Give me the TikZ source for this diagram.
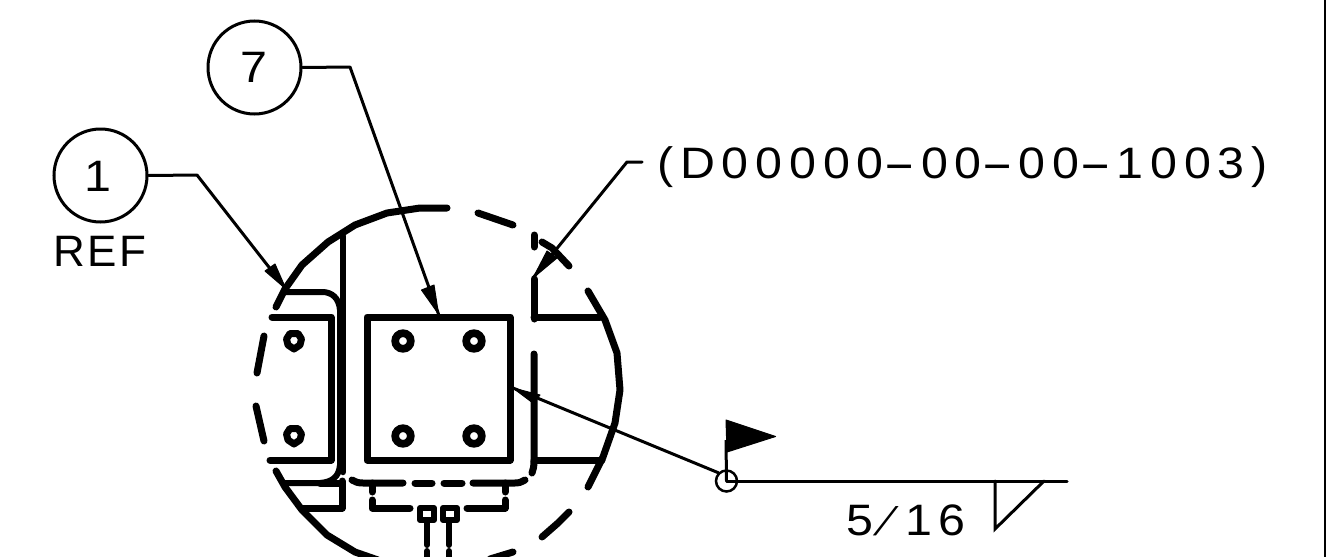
\documentclass[tikz,border=0pt]{standalone}
\usepackage{fontspec}
\setmainfont[LetterSpace=5]{Liberation Sans}
\newfontfamily\widefont[LetterSpace=15.5,FakeStretch=1.1]{Liberation Sans}
\newfontfamily\slashfont[FakeSlant=0.5]{Liberation Sans}
\usetikzlibrary{calc}
\tikzset{
  heavy/.style={line width=7pt,line cap=round,line join=round},
  thin leader/.style={line width=3pt,line cap=round,line join=round},
  bubble/.style={circle,draw,line width=3pt,minimum size=93pt,inner sep=0pt},
  label text/.style={inner sep=0pt,font=\fontsize{44}{44}\selectfont},
  head/.style={fill=black,draw=black,line width=1pt,line join=round}
}
\newcommand{\wh}{\scalebox{2}[1]{-}\hspace*{5pt}}
\newcommand{\wslash}{{\slashfont\fontsize{40}{40}\selectfont /}\hspace*{21pt}}
\begin{document}
\begin{tikzpicture}[x=1pt,y=-1pt]
\useasboundingbox (0,0) rectangle (1326,557);
\fill[white] (0,0) rectangle (1326,557);
\fill[black] (1324,0) rectangle (1326,557);

% bubbles and leaders
\node[bubble] (b7) at (254.5,67.5) {};
\node[label text] (t7) at (254,67) {\widefont 7};
\node[bubble] (b1) at (100.5,175.5) {};
\node[label text] (t1) at (98,176) {\widefont 1};
\node[label text,anchor=base] (ref) at (100,266) {REF};
\node[label text,anchor=base west] (dwg) at (657,178) {\widefont(D00000\wh00\wh00\wh1003)};
\node[label text,anchor=base west] (frac) at (846,535) {\widefont 5\wslash 16};

\coordinate (t7a) at (438.5,314);
\coordinate (t1a) at (286,289);
\coordinate (tda) at (533,278);
\coordinate (tsq) at (513,388);
\node[circle,draw,line width=2.5pt,minimum size=21pt,inner sep=0pt] (wc) at (726.5,481) {};

\draw[thin leader] (b7.east) -- (350,67) -- (t7a);
\draw[thin leader] (b1.east) -- (197,175) -- (t1a);
\draw[thin leader] (642,162) -- (627,162) -- (tda);
\draw[thin leader] (tsq) -- (wc.north west);
\fill[head] (t7a) -- (421.5,290) -- (434,285) -- cycle;
\fill[head] (t1a) -- (265,271) -- (275,264) -- cycle;
\fill[head] (tda) -- (547,251) -- (557,258) -- cycle;
\fill[head] (tsq) -- (540,395) -- (533,403) -- cycle;

% weld symbol
\draw[line width=3pt] (wc.center) -- (726,440);
\fill[head] (726,420) -- (775.5,436.5) -- (727,452) -- cycle;
\draw[line width=3pt,line cap=round] (wc.center) -- (1067,481);
\draw[line width=3pt,line join=miter,line cap=round] (995,481) -- (995,529) -- (1044,481);

% dashed circle
\draw[heavy] (276,307) -- (285,289) -- (302,265) -- (328,242) -- (355,225) -- (387,213) -- (420,208) -- (447,208);
\draw[heavy] (478,213) -- (513,225);
\draw[heavy] (534,235) -- (534,247);
\draw[heavy] (542,242) -- (552,248) -- (569,266);
\draw[heavy] (588,291) -- (605,320) -- (617,353) -- (620,390) -- (615,423) -- (603,457) -- (588,487);
\draw[heavy] (569,512) -- (558,523) -- (542,537);
\draw[heavy] (513,552) -- (490,559);
\draw[heavy] (264,336) -- (257,373);
\draw[heavy] (256,406) -- (264,441);
\draw[heavy] (276,471) -- (285,487) -- (302,510) -- (327,535) -- (355,552) -- (378,560);

% left plate
\draw[heavy] (272,317) -- (331,317) -- (331,460) -- (270,460);
\foreach \n/\x/\y in {la/294/341,lb/294/436}{
  \draw[line width=7pt,line join=round] (\x-7.5,\y-2) -- (\x-4,\y-7.5) -- (\x+4,\y-7.5) -- (\x+7.5,\y-2) -- (\x+6,\y+4) -- (\x,\y+8) -- (\x-6,\y+4) -- cycle;
}
% column
\draw[line width=6.5pt,line cap=round] (343,236) -- (343,472);
\draw[heavy,line width=6pt] (284,292) -- (322,292) .. controls (332,292) and (339,298) .. (340,310) -- (340,465) .. controls (339,477) and (332,482) .. (320,483) -- (285,483);
\draw[heavy] (342,481) -- (342,508) -- (302,508);
\draw[heavy] (320,483) -- (342,483);

% square plate
\draw[line width=7pt,line join=round] (367,317) rectangle (510,460);
\foreach \n/\x/\y in {a/403/341,b/474/341,c/403/436,d/474/436}{
  \draw[line width=7.7pt] (\x,\y) circle[radius=7.8pt];
}

% right plate
\draw[heavy] (534,279) -- (534,319);
\draw[heavy] (534,317) -- (600,317);
\draw[heavy] (534,354) -- (534,461) .. controls (534,467) and (533,470) .. (532,473);
\draw[heavy] (534,460) -- (602,460);

% lower hidden detail
\draw[heavy] (352,480) .. controls (355,482) and (358,483) .. (363,483) -- (403,483);
\draw[heavy] (415,483) -- (432,483);
\draw[heavy] (444,483) -- (462,483);
\draw[heavy] (473,483) -- (515,483) .. controls (519,483) and (522,482) .. (525,480);
\draw[heavy] (372,483) -- (372,492);
\draw[heavy] (505,483) -- (505,492);
\draw[heavy] (372,500) -- (372,508) -- (410,508);
\draw[heavy] (467,508) -- (505,508) -- (505,500);
\draw[heavy,line width=6pt] (420,508) rectangle (434,520);
\draw[heavy,line width=6pt] (443,508) rectangle (457,520);
\draw[heavy,line width=6pt] (427,520) -- (427,545);
\draw[heavy,line width=6pt] (449,520) -- (449,545);
\draw[heavy,line width=6pt] (427,551) -- (427,560);
\draw[heavy,line width=6pt] (449,551) -- (449,560);
\end{tikzpicture}
\end{document}
